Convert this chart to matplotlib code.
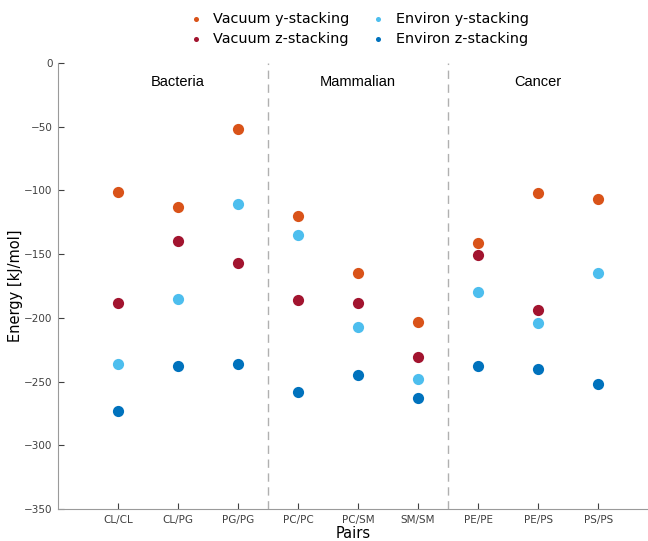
import numpy as np
import matplotlib
matplotlib.use('Agg')
import matplotlib.pyplot as plt

# Pair names and energies
pairs = ['CL/CL', 'CL/PG', 'PG/PG', 'PC/PC', 'PC/SM', 'SM/SM', 'PE/PE', 'PE/PS', 'PS/PS']
vacuum_y = [-101, -113, -52, -120, -165, -203, -141, -102, -107]
vacuum_z = [-188, -140, -157, -186, -188, -231, -151, -194, np.nan]
environ_y = [-236, -185, -111, -135, -207, -248, -180, -204, -165]
environ_z = [-273, -238, -236, -258, -245, -263, -238, -240, -252]
groups = ['Bacteria', 'Mammalian', 'Cancer']

fig = plt.figure(figsize=(6.48, 5.41), dpi=100)
ax = fig.add_axes([0.0895, 0.059, 0.9105, 0.8245])

x = np.arange(1, len(pairs) + 1)
ms = 65
ax.scatter(x, vacuum_y, s=ms, color='#D95319', label='Vacuum y-stacking', zorder=3, linewidths=0)
ax.scatter(x, vacuum_z, s=ms, color='#A2142F', label='Vacuum z-stacking', zorder=3, linewidths=0)
ax.scatter(x, environ_y, s=ms, color='#4DBEEE', label='Environ y-stacking', zorder=3, linewidths=0)
ax.scatter(x, environ_z, s=ms, color='#0072BD', label='Environ z-stacking', zorder=3, linewidths=0)

# group separators and names
for xs in [3.5, 6.5]:
    ax.axvline(xs, color='#b0b0b0', linestyle=(0, (6, 4)), linewidth=1)
for i, g in enumerate(groups):
    ax.text(2 + 3 * i, -15, g, ha='center', va='center', fontsize=10.5,
            family='Liberation Sans')

ax.set_xlim(0, 9.83)
ax.set_ylim(-350, 0)
ax.set_xticks(x)
ax.set_xticklabels(pairs)
ax.set_yticks(np.arange(-350, 1, 50))
ax.tick_params(direction='in', length=4, colors='#404040', labelsize=7.5, width=0.8, pad=4)
for side in ['top', 'right']:
    ax.spines[side].set_visible(False)
for side in ['left', 'bottom']:
    ax.spines[side].set_color('#9a9a9a')
ax.set_xlabel('Pairs', fontsize=10.5, labelpad=1)
ax.set_ylabel('Energy [kJ/mol]', fontsize=10.5, labelpad=1)

ax.legend(loc='upper center', bbox_to_anchor=(0.5525, 0.996), bbox_transform=fig.transFigure,
          ncol=2, frameon=False, fontsize=10.4, markerscale=0.45, handlelength=1.2,
          handletextpad=0.6, columnspacing=1.4, labelspacing=0.4, borderaxespad=0.3)

plt.savefig('out.png', dpi=100)
